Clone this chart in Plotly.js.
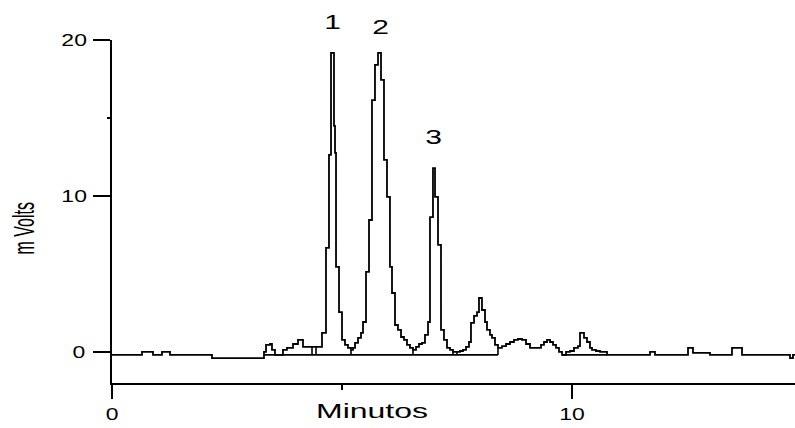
<!DOCTYPE html>
<html>
<head>
<meta charset="utf-8">
<script src="https://cdn.plot.ly/plotly-3.0.1.min.js"></script>
<style>
  html, body { margin: 0; padding: 0; background: #fff; }
  #chart { width: 795px; height: 428px; }
</style>
</head>
<body>
<div id="chart"></div>
<script>
// Chromatogram signal (time in minutes, signal in mV), step-wise detector trace
var timeMin = [
  0, 0.652, 0.891, 1.087, 1.261, 2.130, 2.174, 3.261,
  3.304, 3.348, 3.435, 3.478, 3.543, 3.674, 3.717, 3.804, 3.935, 4.043, 4.152, 4.348, 4.522,
  4.565, 4.652, 4.717, 4.761, 4.826, 4.848, 4.870, 4.935, 5.000, 5.065, 5.130, 5.196,
  5.239, 5.283, 5.348, 5.413, 5.457, 5.522, 5.587, 5.652, 5.717, 5.783, 5.848, 5.913, 5.978,
  6.043, 6.087, 6.152, 6.217, 6.283, 6.348, 6.413, 6.478, 6.543,
  6.609, 6.674, 6.739, 6.804, 6.870, 6.913, 6.978, 7.022, 7.087, 7.152, 7.217, 7.283, 7.348, 7.413, 7.500,
  7.565, 7.630, 7.696, 7.761, 7.804, 7.870, 7.935, 7.978, 8.043, 8.109, 8.152, 8.217, 8.261, 8.326, 8.391,
  8.478, 8.565, 8.652, 8.739, 8.826, 8.913, 9.000, 9.087, 9.261, 9.326, 9.391, 9.457, 9.522, 9.587, 9.652, 9.717, 9.783,
  9.870, 9.957, 10.043, 10.130, 10.174, 10.261, 10.326, 10.391, 10.435, 10.522, 10.609, 10.696, 10.761,
  11.696, 11.804, 12.522, 12.630, 13.000, 13.478, 13.696, 14.739, 14.804, 14.848
];
var signalMv = [
  -0.17, 0.02, -0.17, 0.02, -0.17, -0.17, -0.37, -0.37,
  0.02, 0.47, 0.53, 0.15, -0.17, -0.17, 0.15, 0.28, 0.53, 0.79, 0.34, 0.34, 0.34,
  1.24, 6.69, 12.65, 19.19, 14.51, 12.78, 5.47, 2.58, 0.79, 0.47, 0.28, 0.15,
  0.28, 0.60, 0.92, 1.24, 1.94, 5.15, 8.48, 16.17, 18.42, 19.19, 17.46, 12.33, 9.96,
  5.47, 3.80, 1.75, 1.43, 0.98, 0.79, 0.47, 0.28, 0.15,
  0.34, 0.53, 0.60, 1.11, 1.94, 8.67, 11.81, 9.96, 6.88, 1.43, 0.79, 0.28, 0.15, 0.02, 0.02,
  0.08, 0.15, 0.34, 0.66, 1.88, 2.33, 2.58, 3.48, 2.71, 1.94, 1.43, 1.11, 0.92, 0.47, 0.28,
  0.40, 0.53, 0.66, 0.79, 0.85, 0.79, 0.53, 0.28, 0.28, 0.47, 0.66, 0.79, 0.66, 0.47, 0.28, 0.02, -0.17,
  0.02, 0.08, 0.28, 0.40, 1.24, 0.92, 0.66, 0.28, 0.15, 0.08, 0.02, 0.02, -0.17,
  0.02, -0.17, 0.28, -0.04, -0.17, 0.28, -0.17, -0.37, -0.17, -0.17
];

// Integration baseline and peak drop lines
var baseTime = [3.304, 8.391, null, 4.348, 4.348, null, 4.435, 4.435, null, 5.196, 5.196, null,
                6.543, 6.543, null, 7.413, 7.413, null, 7.500, 7.500, null, 8.391, 8.391, null, 9.783, 10.761];
var baseMv   = [-0.17, -0.17, null, -0.17, 0.34, null, -0.17, 0.34, null, -0.17, 0.15, null,
                -0.17, 0.15, null, -0.17, 0.02, null, -0.17, 0.02, null, -0.17, 0.28, null, -0.17, -0.17];

// Peak labels
var peakLabels = ['1', '2', '3'];
var peakTime = [4.79, 5.83, 6.98];
var peakLabelMv = [21.2, 20.85, 13.8];

// Axis ticks and ranges
var xRange = [0, 14.848];
var yRange = [-1.97, 20.02];
var xTickVals = [0, 10];
var xTickText = ['0', '10'];
var yTickVals = [0, 10, 20];
var yTickText = ['0', '10', '20'];

var FONT = 'Liberation Sans, Arial, sans-serif';

var traces = [
  {
    x: timeMin, y: signalMv, type: 'scatter', mode: 'lines',
    line: { color: '#000', width: 1.8, shape: 'hv' }, hoverinfo: 'skip'
  },
  {
    x: baseTime, y: baseMv, type: 'scatter', mode: 'lines',
    line: { color: '#000', width: 1.6 }, connectgaps: false, hoverinfo: 'skip'
  }
];

var annotations = peakLabels.map(function (lab, i) {
  return {
    text: lab, xref: 'x', yref: 'paper', x: peakTime[i],
    y: (peakLabelMv[i] - yRange[0]) / (yRange[1] - yRange[0]),
    xanchor: 'center', yanchor: 'middle', showarrow: false,
    font: { family: FONT, size: 20, color: '#000' }
  };
});
annotations.push(
  { text: 'Minutos', xref: 'paper', yref: 'paper', x: 0.381, y: -0.082,
    xanchor: 'center', yanchor: 'middle', showarrow: false,
    font: { family: FONT, size: 20, color: '#000' } },
  { text: 'm Volts', xref: 'paper', yref: 'paper', x: -0.129, y: 0.45,
    xanchor: 'center', yanchor: 'middle', showarrow: false, textangle: -90,
    font: { family: FONT, size: 16, color: '#000' } }
);

var layout = {
  width: 795, height: 428,
  margin: { l: 112, r: 0, t: 40, b: 45, pad: 0 },
  paper_bgcolor: '#fff', plot_bgcolor: '#fff',
  showlegend: false,
  font: { family: FONT, color: '#000' },
  xaxis: {
    range: xRange, tickmode: 'array', tickvals: xTickVals, ticktext: xTickText,
    ticks: 'outside', ticklen: 14, tickwidth: 2, tickcolor: '#000',
    showline: true, linewidth: 2, linecolor: '#000', mirror: false,
    showgrid: false, zeroline: false, ticklabelstandoff: 1,
    tickfont: { family: FONT, size: 17, color: '#000' },
    minor: { tickmode: 'array', tickvals: [5], ticks: 'outside', ticklen: 5, tickwidth: 2, tickcolor: '#000', showgrid: false }
  },
  yaxis: {
    range: yRange, tickmode: 'array', tickvals: yTickVals, ticktext: yTickText,
    ticks: 'outside', ticklen: 17, tickwidth: 2, tickcolor: '#000',
    showline: true, linewidth: 2, linecolor: '#000',
    showgrid: false, zeroline: false, ticklabelstandoff: 6,
    tickfont: { family: FONT, size: 17, color: '#000' },
    minor: { tickmode: 'array', tickvals: [15], ticks: 'outside', ticklen: 3, tickwidth: 2, tickcolor: '#000', showgrid: false }
  },
  annotations: annotations
};

function stretch(el, k) {
  var r = el.getBoundingClientRect();
  if (!r.width) return;
  var cx = r.x + r.width / 2, cy = r.y + r.height / 2;
  var m = el.parentNode.getScreenCTM();
  var M = new DOMMatrix([m.a, m.b, m.c, m.d, m.e, m.f]);
  var S = new DOMMatrix().translate(cx, cy).scale(k, 1).translate(-cx, -cy);
  var T = M.inverse().multiply(S).multiply(M);
  var old = el.getAttribute('transform') || '';
  el.setAttribute('transform', 'matrix(' + [T.a, T.b, T.c, T.d, T.e, T.f].join(',') + ') ' + old);
}

Plotly.newPlot('chart', traces, layout, { displayModeBar: false, staticPlot: true }).then(function () {
  document.querySelectorAll('#chart .xtick text, #chart .ytick text').forEach(function (t) { stretch(t, 1.35); });
  document.querySelectorAll('#chart .annotation-text').forEach(function (t) {
    var s = t.textContent.trim();
    stretch(t, /^[123]$/.test(s) ? 1.5 : (s === 'm Volts' ? 1.8 : 1.6));
  });
});
</script>
</body>
</html>
